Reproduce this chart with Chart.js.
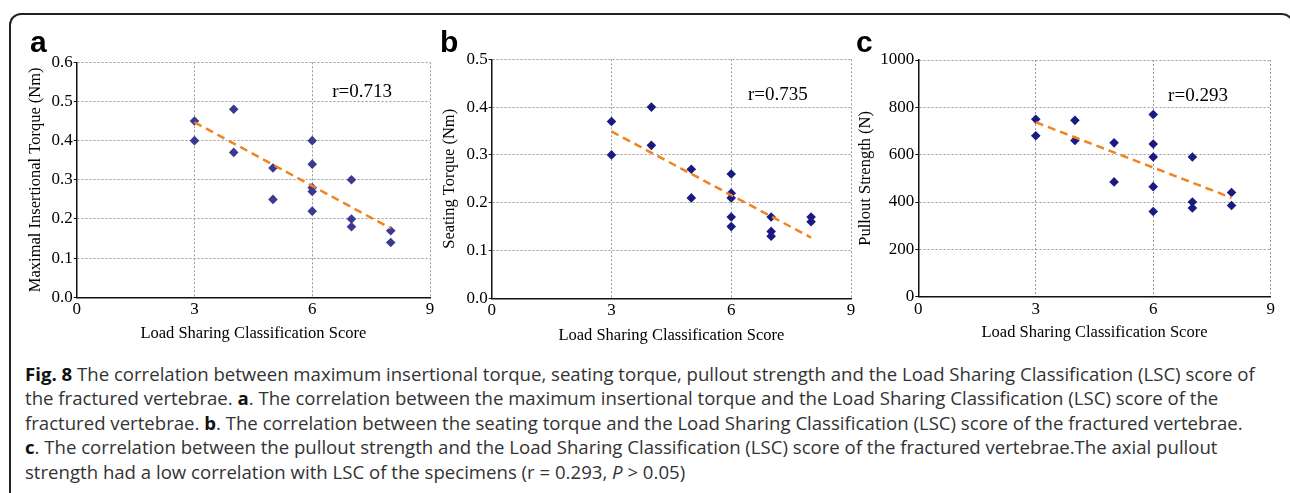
<!DOCTYPE html>
<html>
<head>
<meta charset="utf-8">
<script src="https://cdn.jsdelivr.net/npm/chart.js@4.4.0/dist/chart.umd.min.js"></script>
<style>
  body { margin: 0; background: #fff; width: 1290px; height: 493px; overflow: hidden; position: relative; }
  .frame { position: absolute; left: 9px; top: 13px; right: -4px; height: 600px;
           border: 2px solid #222; border-bottom: none; border-radius: 12px 12px 0 0; }
  canvas { position: absolute; top: 40px; }
  .letter { position: absolute; font-family: "Liberation Sans", Arial, sans-serif; font-weight: bold;
            font-size: 30px; line-height: 30px; color: #000; }
  .caption { position: absolute; left: 25px; top: 362px; font-family: "Open Sans", sans-serif;
             font-size: 18.6px; line-height: 24.4px; color: #333; white-space: nowrap; }
  .caption b { color: #111; }
</style>
</head>
<body>
<div class="frame"></div>
<canvas id="chartA" width="420" height="310" style="left:20px"></canvas>
<canvas id="chartB" width="428" height="310" style="left:432px"></canvas>
<canvas id="chartC" width="430" height="310" style="left:850px"></canvas>
<div class="letter" style="left:30px;top:27px">a</div>
<div class="letter" style="left:440px;top:27px">b</div>
<div class="letter" style="left:856px;top:27px">c</div>
<div class="caption">
<div><b>Fig. 8</b> The correlation between maximum insertional torque, seating torque, pullout strength and the Load Sharing Classification (LSC) score of</div>
<div>the fractured vertebrae. <b>a</b>. The correlation between the maximum insertional torque and the Load Sharing Classification (LSC) score of the</div>
<div>fractured vertebrae. <b>b</b>. The correlation between the seating torque and the Load Sharing Classification (LSC) score of the fractured vertebrae.</div>
<div><b>c</b>. The correlation between the pullout strength and the Load Sharing Classification (LSC) score of the fractured vertebrae.The axial pullout</div>
<div>strength had a low correlation with LSC of the specimens (r = 0.293, <i>P</i> &gt; 0.05)</div>
</div>
<script>
// LSC scores for each specimen (same order in all three panels)
const lscScore = [3, 3, 4, 4, 5, 5, 6, 6, 6, 6, 6, 7, 7, 7, 8, 8];

// a: maximal insertional torque (Nm)
const insertionalTorque = [0.45, 0.40, 0.48, 0.37, 0.33, 0.25, 0.40, 0.34, 0.28, 0.27, 0.22, 0.30, 0.20, 0.18, 0.17, 0.14];
// b: seating torque (Nm)
const seatingTorque = [0.37, 0.30, 0.40, 0.32, 0.27, 0.21, 0.26, 0.22, 0.21, 0.17, 0.15, 0.17, 0.14, 0.13, 0.17, 0.16];
// c: pullout strength (N)
const pulloutStrength = [750, 680, 745, 660, 650, 485, 770, 645, 590, 465, 360, 590, 400, 375, 440, 385];

// fitted lines, ends
const trendX = [3, 8];
const trendA = [0.447, 0.176];
const trendB = [0.349, 0.127];
const trendC = [737, 418];

// correlation labels and where they sit (data units)
const rLabels = ['r=0.713', 'r=0.735', 'r=0.293'];
const rAnchorX = [6.51, 6.42, 6.38];
const rAnchorY = [0.524, 0.425, 848];

const xTicks = [0, 3, 6, 9];
const yMaxA = 0.6, yMaxB = 0.5, yMaxC = 1000;

const serif = '"Liberation Serif", "Times New Roman", serif';

// draws the r= text
const rLabelPlugin = {
    id: 'rLabel',
    afterDatasetsDraw(chart, args, opts) {
        const ctx = chart.ctx;
        const x = chart.scales.x.getPixelForValue(opts.x);
        const y = chart.scales.y.getPixelForValue(opts.y);
        ctx.save();
        ctx.font = '19px ' + serif;
        ctx.fillStyle = '#000';
        ctx.textAlign = 'left';
        ctx.textBaseline = 'middle';
        ctx.fillText(opts.text, x, y);
        ctx.restore();
    }
};

function makePanel(id, values, trend, cfg) {
    const points = lscScore.map((s, i) => ({ x: s, y: values[i] }));
    const line = trendX.map((s, i) => ({ x: s, y: trend[i] }));
    new Chart(document.getElementById(id), {
        type: 'scatter',
        data: {
            datasets: [{
                data: line,
                type: 'line',
                showLine: true,
                borderColor: '#f0841e',
                borderWidth: 2.5,
                borderDash: [8, 5],
                pointRadius: 0,
                fill: false
            }, {
                data: points,
                pointStyle: 'rectRot',
                pointRadius: 4.8,
                pointBorderWidth: 0,
                backgroundColor: cfg.color,
                borderColor: cfg.color
            }]
        },
        options: {
            responsive: false,
            animation: false,
            layout: { padding: { left: 0, top: cfg.padTop, right: cfg.padRight, bottom: 0 } },
            plugins: {
                legend: { display: false },
                tooltip: { enabled: false },
                rLabel: { text: cfg.rText, x: cfg.rX, y: cfg.rY }
            },
            scales: {
                x: {
                    type: 'linear',
                    min: 0, max: 9,
                    afterBuildTicks: (scale) => { scale.ticks = xTicks.map(v => ({ value: v })); },
                    afterFit: (scale) => { scale.height = cfg.xAxisH; },
                    ticks: { color: '#000', padding: 2.5, font: { family: serif, size: 17 } },
                    grid: { color: '#9a9a9a', lineWidth: 1, drawTicks: false },
                    border: { color: '#111', width: 1.5, dash: [2, 2] },
                    title: {
                        display: true,
                        text: 'Load Sharing Classification Score',
                        color: '#000',
                        font: { family: serif, size: 16.5 },
                        padding: { top: 0, bottom: cfg.xTitlePad }
                    }
                },
                y: {
                    min: 0, max: cfg.yMax,
                    ticks: {
                        stepSize: cfg.yStep,
                        color: '#000',
                        padding: 1,
                        font: { family: serif, size: 17 },
                        callback: cfg.fmt
                    },
                    afterFit: (scale) => { scale.width = cfg.yAxisW; },
                    grid: { color: '#9a9a9a', lineWidth: 1, tickLength: 3, tickColor: '#111' },
                    border: { color: '#111', width: 1.5, dash: [2, 2] },
                    title: {
                        display: true,
                        text: cfg.yTitle,
                        color: '#000',
                        font: { family: serif, size: 16.5 },
                        padding: { top: cfg.yTitlePad, bottom: 0 }
                    }
                }
            }
        },
        plugins: [rLabelPlugin]
    });
}

makePanel('chartA', insertionalTorque, trendA, {
    color: '#3c3990', yMax: yMaxA, yStep: 0.1, fmt: v => v.toFixed(1),
    yTitle: 'Maximal Insertional Torque (Nm)',
    padTop: 22.3, padRight: 10, xAxisH: 52.7, yAxisW: 56.7, yTitlePad: 6.1, xTitlePad: 6.1,
    rText: rLabels[0], rX: rAnchorX[0], rY: rAnchorY[0]
});
makePanel('chartB', seatingTorque, trendB, {
    color: '#1b1a82', yMax: yMaxB, yStep: 0.1, fmt: v => v.toFixed(1),
    yTitle: 'Seating Torque (Nm)',
    padTop: 19.3, padRight: 9, xAxisH: 51.7, yAxisW: 59.7, yTitlePad: 8.1, xTitlePad: 4.1,
    rText: rLabels[1], rX: rAnchorX[1], rY: rAnchorY[1]
});
makePanel('chartC', pulloutStrength, trendC, {
    color: '#1b1a82', yMax: yMaxC, yStep: 200, fmt: v => String(Math.round(v)),
    yTitle: 'Pullout Strength (N)',
    padTop: 20, padRight: 9.3, xAxisH: 53.3, yAxisW: 68.3, yTitlePad: 5.8, xTitlePad: 7.1,
    rText: rLabels[2], rX: rAnchorX[2], rY: rAnchorY[2]
});
</script>
</body>
</html>
